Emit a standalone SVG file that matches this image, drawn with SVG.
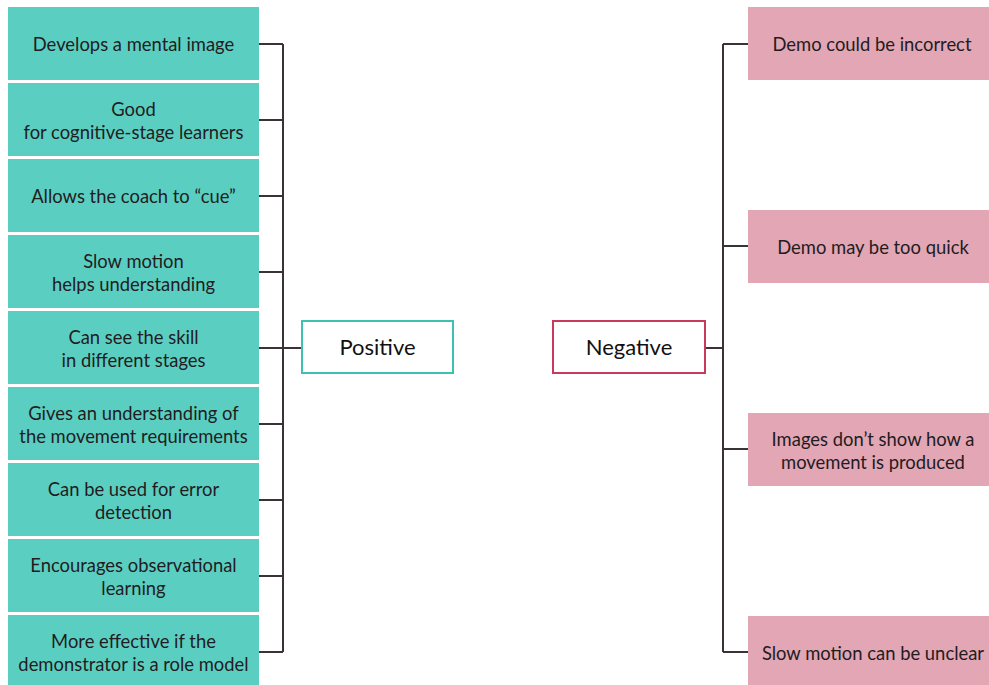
<svg xmlns="http://www.w3.org/2000/svg" width="989" height="685" viewBox="0 0 989 685">
<style>
.pos rect{fill:#5acfc1}
.neg rect{fill:#e3a6b4}
text{font-family:Lato,"Noto Sans",sans-serif;font-size:18.4px;fill:#221c1f;text-anchor:middle}
.hub text{font-size:22px;fill:#111}
.conn{stroke:#3b3236;stroke-width:2;fill:none}
</style>
<rect width="989" height="685" fill="#fff"/>
<g id="connectors" class="conn">
<path d="M259 44H283M259 120H283M259 196H283M259 272H283M259 348H283M259 424H283M259 500H283M259 576H283M259 652H283M283 44V652M283 348H302"/>
<path d="M705 348H723M723 44V652M723 44H748M723 246H748M723 449H748M723 652H748"/>
</g>
<g id="positive" class="hub"><rect x="302" y="321" width="151" height="52" fill="#fff" stroke="#3fc1b1" stroke-width="2"/><text x="377.5" y="355">Positive</text></g>
<g id="negative" class="hub"><rect x="553" y="321" width="152" height="52" fill="#fff" stroke="#c9395c" stroke-width="2"/><text x="629" y="355">Negative</text></g>
<g id="p1" class="pos"><rect x="8" y="7" width="251" height="73"/><text x="133.5" y="51">Develops a mental image</text></g>
<g id="p2" class="pos"><rect x="8" y="83" width="251" height="73"/><text x="133.5" y="116">Good</text><text x="133.5" y="139">for cognitive-stage learners</text></g>
<g id="p3" class="pos"><rect x="8" y="159" width="251" height="73"/><text x="133.5" y="203">Allows the coach to “cue”</text></g>
<g id="p4" class="pos"><rect x="8" y="235" width="251" height="73"/><text x="133.5" y="268">Slow motion</text><text x="133.5" y="291">helps understanding</text></g>
<g id="p5" class="pos"><rect x="8" y="311" width="251" height="73"/><text x="133.5" y="344">Can see the skill</text><text x="133.5" y="367">in different stages</text></g>
<g id="p6" class="pos"><rect x="8" y="387" width="251" height="73"/><text x="133.5" y="420">Gives an understanding of</text><text x="133.5" y="443">the movement requirements</text></g>
<g id="p7" class="pos"><rect x="8" y="463" width="251" height="73"/><text x="133.5" y="496">Can be used for error</text><text x="133.5" y="519">detection</text></g>
<g id="p8" class="pos"><rect x="8" y="539" width="251" height="73"/><text x="133.5" y="572">Encourages observational</text><text x="133.5" y="595">learning</text></g>
<g id="p9" class="pos"><rect x="8" y="615" width="251" height="73"/><text x="133.5" y="648">More effective if the</text><text x="133.5" y="671">demonstrator is a role model</text></g>
<g id="n1" class="neg"><rect x="748" y="7" width="241" height="73"/><text x="872" y="51">Demo could be incorrect</text></g>
<g id="n2" class="neg"><rect x="748" y="210" width="241" height="73"/><text x="873" y="254">Demo may be too quick</text></g>
<g id="n3" class="neg"><rect x="748" y="413" width="241" height="73"/><text x="873" y="446">Images don’t show how a</text><text x="873" y="469">movement is produced</text></g>
<g id="n4" class="neg"><rect x="748" y="616" width="241" height="73"/><text x="873" y="660">Slow motion can be unclear</text></g>
</svg>
